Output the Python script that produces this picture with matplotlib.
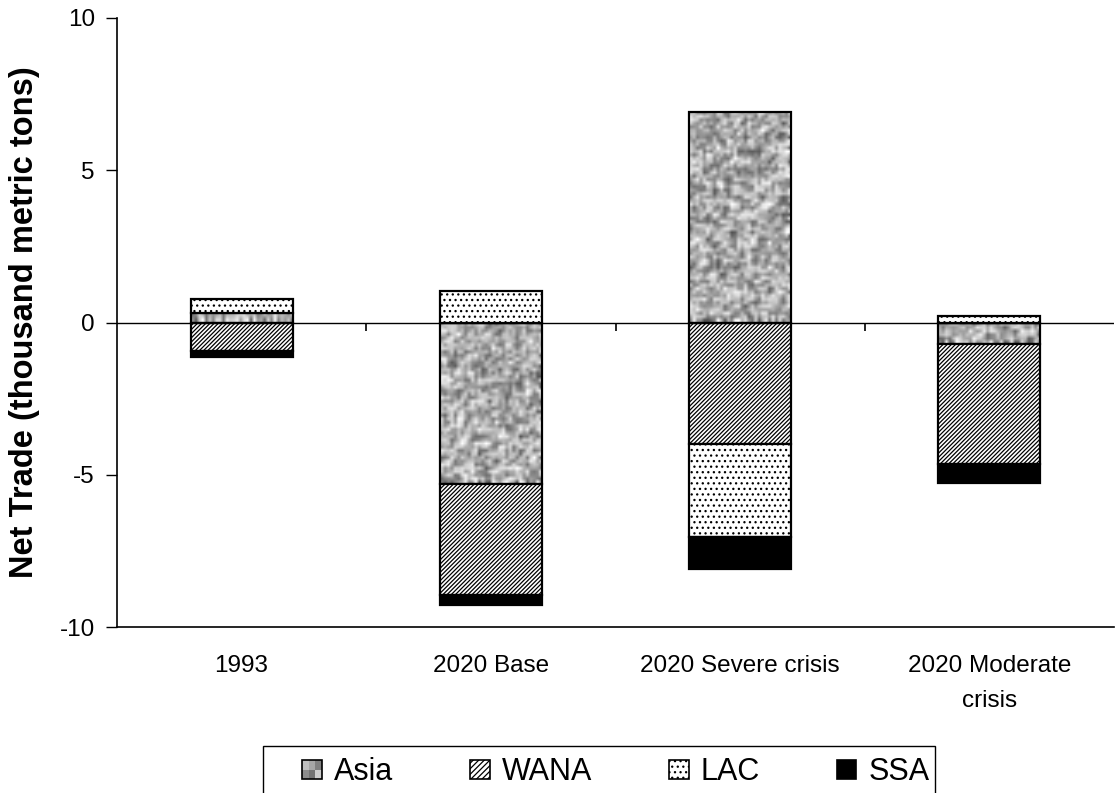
import numpy as np
import matplotlib
matplotlib.use("Agg")
import matplotlib.pyplot as plt
from matplotlib.patches import Rectangle
from matplotlib.legend_handler import HandlerBase

plt.rcParams['font.family'] = ['Liberation Sans', 'DejaVu Sans']

categories = ["1993", "2020 Base", "2020 Severe crisis", "2020 Moderate\ncrisis"]
series_names = ["Asia", "WANA", "LAC", "SSA"]
asia = [0.31, -5.30, 6.90, -0.72]
wana = [-0.95, -3.65, -4.00, -3.93]
lac = [0.46, 1.03, -3.05, 0.21]
ssa = [-0.17, -0.33, -1.06, -0.62]
yticks = [-10, -5, 0, 5, 10]

fig = plt.figure(figsize=(11.15, 7.93), dpi=100)
ax = fig.add_axes([117/1115, 1 - 627/793, 997/1115, (627-18)/793])

x = np.arange(len(categories))
width = 0.41
rng = np.random.default_rng(3)

def noise_texture(h, w):
    base = rng.random((h, w))
    sm = base.copy()
    sm[:-1, :-1] = (2 * base[:-1, :-1] + base[1:, :-1] + base[:-1, 1:]) / 4
    return np.clip(0.3 + 0.75 * sm, 0, 1)

plt.rcParams['hatch.linewidth'] = 0.9
plt.rcParams['hatch.color'] = '#505050'

styles = {
    "Asia": dict(facecolor="none", hatch=None),
    "WANA": dict(facecolor="white", hatch="////////"),
    "LAC": dict(facecolor="white", hatch="..."),
    "SSA": dict(facecolor="black", hatch=None),
}

data = [asia, wana, lac, ssa]
pos = np.zeros(len(categories))
neg = np.zeros(len(categories))
for name, vals in zip(series_names, data):
    vals = np.array(vals)
    bottoms = np.where(vals >= 0, pos, neg)
    bars = ax.bar(x, vals, width, bottom=bottoms, edgecolor="black",
                  linewidth=1.6, zorder=3, **styles[name])
    if name == "Asia":
        for b in bars:
            bx, by = b.get_x(), b.get_y()
            bw, bh = b.get_width(), b.get_height()
            y0, y1 = sorted([by, by + bh])
            npx = max(int(abs(bh) * 30.45 / 3.5), 2)
            tex = noise_texture(npx, 30)
            im = ax.imshow(tex, cmap="gray", vmin=0, vmax=1, aspect="auto",
                           extent=[bx, bx + bw, y0, y1], zorder=2,
                           interpolation="bilinear")
            im.set_clip_path(b)
    pos = pos + np.where(vals >= 0, vals, 0)
    neg = neg + np.where(vals < 0, vals, 0)

ax.set_xlim(-0.5, 3.5)
ax.set_ylim(-10, 10)
ax.set_yticks(yticks)
ax.set_yticklabels([str(v) for v in yticks], fontsize=17.5)
ax.set_xticks(x)
ax.set_xticklabels(categories, fontsize=17.5, linespacing=1.75)
ax.tick_params(axis="x", length=0, pad=20)
ax.tick_params(axis="y", length=8, width=1, direction="out", pad=8)
ax.axhline(0, color="black", linewidth=1.0, zorder=4)
ax.vlines([0.5, 1.5, 2.5], -0.27, 0, color="black", linewidth=1.2, zorder=4)
for s in ["top", "right"]:
    ax.spines[s].set_visible(False)
ax.spines["left"].set_linewidth(1.2)
ax.spines["bottom"].set_linewidth(1.2)
ax.set_ylabel("Net Trade (thousand metric tons)", fontsize=23.5, fontweight="bold", labelpad=14)


class NoiseHandler(HandlerBase):
    def create_artists(self, legend, orig_handle, xdescent, ydescent, width, height, fontsize, trans):
        arts = []
        levels = [0.55, 0.75, 0.45, 0.65, 0.8, 0.5]
        n = 3
        side = min(width, height)
        x0 = -xdescent + (width - side) / 2
        y0 = -ydescent
        cw = side / n
        for i in range(n):
            for j in range(2):
                g = levels[(i * 2 + j) % len(levels)]
                r = Rectangle((x0 + i * cw, y0 + j * side / 2), cw, side / 2,
                              facecolor=(g, g, g), edgecolor="none", transform=trans)
                arts.append(r)
        arts.append(Rectangle((x0, y0), side, side, facecolor="none",
                              edgecolor="black", linewidth=1.2, transform=trans))
        return arts


class SquarePatchHandler(HandlerBase):
    def create_artists(self, legend, orig_handle, xdescent, ydescent, width, height, fontsize, trans):
        side = min(width, height)
        x0 = -xdescent + (width - side) / 2
        r = Rectangle((x0, -ydescent), side, side, facecolor=orig_handle.get_facecolor(),
                      hatch=orig_handle.get_hatch(), edgecolor="black", linewidth=1.2,
                      transform=trans)
        return [r]

h_asia = Rectangle((0, 0), 1, 1, facecolor="gray")
h_wana = Rectangle((0, 0), 1, 1, facecolor="white", hatch="//////")
h_lac = Rectangle((0, 0), 1, 1, facecolor="white", hatch="...")
h_ssa = Rectangle((0, 0), 1, 1, facecolor="black")

# legend frame (content sits off-centre inside it, as in the original)
frame = Rectangle((263/1115, 1 - 800/793), (935-263)/1115, (800-746)/793,
                  transform=fig.transFigure, facecolor="white", edgecolor="black",
                  linewidth=1.0, clip_on=False)
fig.add_artist(frame)

leg = fig.legend([h_asia, h_wana, h_lac, h_ssa], series_names,
                 handler_map={h_asia: NoiseHandler(), h_wana: SquarePatchHandler(),
                              h_lac: SquarePatchHandler(), h_ssa: SquarePatchHandler()},
                 loc="center", bbox_to_anchor=(616/1115, 1 - 772/793),
                 ncol=4, fontsize=22, frameon=False,
                 handlelength=0.65, handleheight=0.65,
                 handletextpad=0.4, columnspacing=2.5, borderpad=0.0,
                 borderaxespad=0)

fig.savefig("out.png", dpi=100)
